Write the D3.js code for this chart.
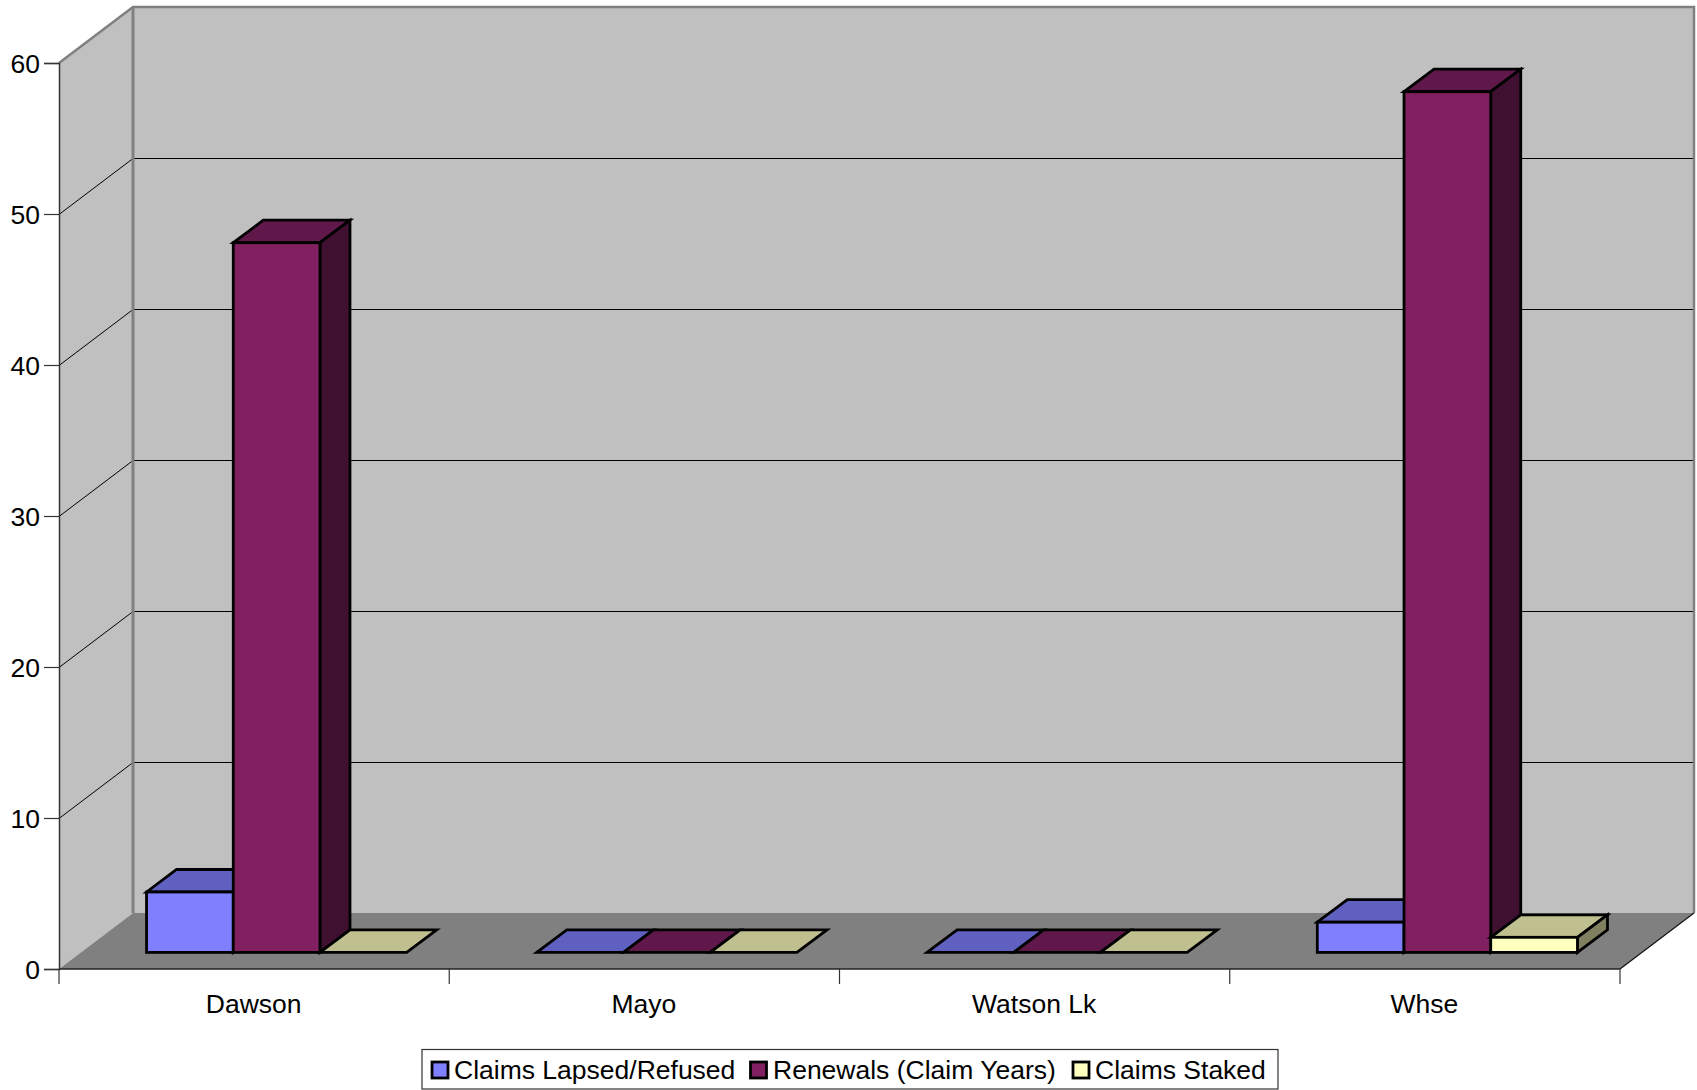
<!DOCTYPE html>
<html>
<head>
<meta charset="utf-8">
<script src="https://cdn.jsdelivr.net/npm/d3@7"></script>
<style>
	html, body { margin: 0; padding: 0; background: #fff; }
	svg { display: block; }
	text { font-family: "Liberation Sans", Arial, sans-serif; font-size: 26.5px; fill: #000; }
</style>
</head>
<body>
<div id="chart"></div>
<script>
var categories = ["Dawson", "Mayo", "Watson Lk", "Whse"];
var seriesNames = ["Claims Lapsed/Refused", "Renewals (Claim Years)", "Claims Staked"];
var claimsLapsed = [4, 0, 0, 2];
var renewals = [47, 0, 0, 57];
var claimsStaked = [0, 0, 0, 1];
var yTicks = [0, 10, 20, 30, 40, 50, 60];

var seriesValues = [claimsLapsed, renewals, claimsStaked];
var fills = [
	{front: "#8080ff", top: "#6060c0", side: "#404080"},
	{front: "#802060", top: "#60184a", side: "#401030"},
	{front: "#ffffc0", top: "#bfbf90", side: "#808060"}
];

var width = 1697, height = 1090;
var left = 59, right = 1620, bottom = 969, top60 = 63;
// wall depth, and where the bars stand inside it
var depthX = 74, depthY = 56;
var barInX = 22.5, barInY = 16.6;
var barDX = 30, barDY = 22.5;

var svg = d3.select("#chart").append("svg")
	.attr("width", width)
	.attr("height", height);

var y = d3.scaleLinear().domain([0, 60]).range([bottom, top60]);
var x = d3.scaleBand().domain(categories).range([left, right]);
var xBar = d3.scaleBand().domain(d3.range(seriesNames.length))
	.range([0, x.bandwidth()])
	.paddingOuter(0.75).paddingInner(0);

function pts(a) { return a.map(function(p){ return p.join(","); }).join(" "); }

// walls and floor
svg.append("polygon")
	.attr("points", pts([[left, y(60)], [left+depthX, y(60)-depthY], [left+depthX, y(0)-depthY], [left, y(0)]]))
	.attr("fill", "#c0c0c0");
svg.append("polygon")
	.attr("points", pts([[left+depthX, y(60)-depthY], [right+depthX, y(60)-depthY], [right+depthX, y(0)-depthY], [left+depthX, y(0)-depthY]]))
	.attr("fill", "#c0c0c0");
svg.append("polygon")
	.attr("points", pts([[left, y(0)], [left+depthX, y(0)-depthY], [right+depthX, y(0)-depthY], [right, y(0)]]))
	.attr("fill", "#808080");

// gridlines, half pixel so they stay one row thick
svg.append("g").selectAll("polyline")
	.data(yTicks.filter(function(d){ return d > 0 && d < 60; }))
	.enter().append("polyline")
	.attr("points", function(d){ return pts([[left, y(d)+0.5], [left+depthX, y(d)-depthY+0.5], [right+depthX, y(d)-depthY+0.5]]); })
	.attr("fill", "none")
	.attr("stroke", "#000")
	.attr("stroke-width", 1);

// wall outline
svg.append("polyline")
	.attr("points", pts([[left, y(60)], [left+depthX, y(60)-depthY], [right+depthX, y(60)-depthY], [right+depthX, y(0)-depthY]]))
	.attr("fill", "none").attr("stroke", "#808080").attr("stroke-width", 2.5);
svg.append("line")
	.attr("x1", left+depthX).attr("x2", left+depthX)
	.attr("y1", y(60)-depthY).attr("y2", y(0)-depthY)
	.attr("stroke", "#808080").attr("stroke-width", 3);
svg.append("line")
	.attr("x1", right).attr("y1", y(0))
	.attr("x2", right+depthX).attr("y2", y(0)-depthY)
	.attr("stroke", "#111").attr("stroke-width", 1.2);

// y axis
var yAxis = d3.axisLeft(y).tickValues(yTicks).tickSize(15).tickPadding(4).tickFormat(d3.format("d"));
var yG = svg.append("g").attr("transform", "translate(" + left + ",0)").call(yAxis);
yG.select(".domain").attr("stroke", "#333").attr("stroke-width", 1.5);
yG.selectAll("line").attr("stroke", "#333").attr("stroke-width", 1.2);
yG.selectAll("text").style("font-size", "26.5px").style("font-family", "Liberation Sans").attr("dy", "0.35em");

// x axis, ticks on category edges
var xG = svg.append("g").attr("transform", "translate(0," + bottom + ")");
xG.append("line").attr("x1", left).attr("x2", right).attr("stroke", "#222").attr("stroke-width", 1.5);
xG.selectAll(".edge").data(categories.concat(["end"])).enter().append("line")
	.attr("class", "edge")
	.attr("x1", function(d){ return d === "end" ? right : x(d); })
	.attr("x2", function(d){ return d === "end" ? right : x(d); })
	.attr("y1", 0).attr("y2", 15)
	.attr("stroke", "#333").attr("stroke-width", 1.2);
xG.selectAll(".cat").data(categories).enter().append("text")
	.attr("class", "cat")
	.attr("x", function(d){ return x(d) + x.bandwidth()/2 - 0.5; })
	.attr("y", 44)
	.attr("text-anchor", "middle")
	.text(function(d){ return d; });

// bars
var bars = svg.append("g").attr("stroke", "#000").attr("stroke-width", 2.8).attr("stroke-linejoin", "miter");
categories.forEach(function(cat, c){
	seriesValues.forEach(function(vals, s){
		var x0 = x(cat) + xBar(s) + barInX;
		var x1 = x0 + xBar.bandwidth();
		var yb = y(0) - barInY;
		var yt = y(vals[c]) - barInY;
		var g = bars.append("g");
		g.append("polygon")
			.attr("points", pts([[x0, yt], [x0+barDX, yt-barDY], [x1+barDX, yt-barDY], [x1, yt]]))
			.attr("fill", fills[s].top);
		if (vals[c] > 0) {
			g.append("polygon")
				.attr("points", pts([[x1, yt], [x1+barDX, yt-barDY], [x1+barDX, yb-barDY], [x1, yb]]))
				.attr("fill", fills[s].side);
			g.append("rect")
				.attr("x", x0).attr("y", yt)
				.attr("width", x1-x0).attr("height", yb-yt)
				.attr("fill", fills[s].front);
		}
	});
});

// legend
var swatchX = [432, 750.5, 1073];
var labelX = [454, 773, 1095];
var legend = svg.append("g");
legend.append("rect")
	.attr("x", 422).attr("y", 1049.5)
	.attr("width", 856).attr("height", 39.5)
	.attr("fill", "#fff").attr("stroke", "#333").attr("stroke-width", 1.2);
seriesNames.forEach(function(name, i){
	legend.append("rect")
		.attr("x", swatchX[i]).attr("y", 1062)
		.attr("width", 16).attr("height", 16)
		.attr("fill", fills[i].front)
		.attr("stroke", "#000").attr("stroke-width", 2.8);
	legend.append("text")
		.attr("x", labelX[i]).attr("y", 1079)
		.text(name);
});
</script>
</body>
</html>
